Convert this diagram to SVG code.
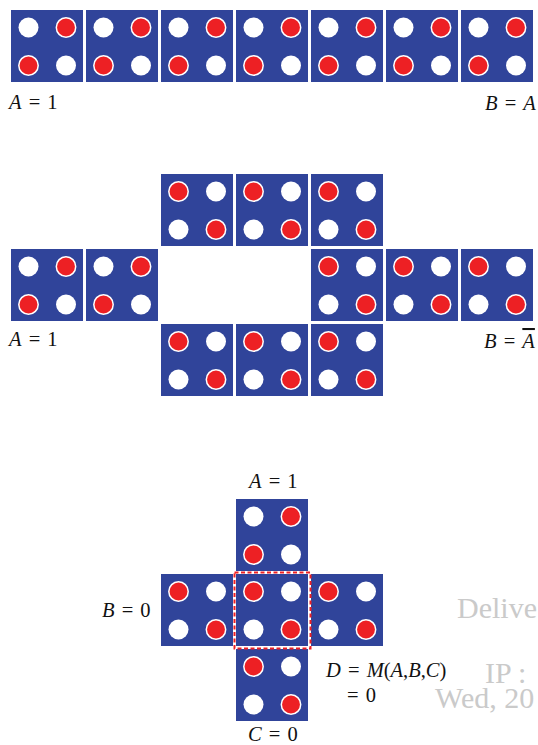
<svg xmlns="http://www.w3.org/2000/svg" xmlns:xlink="http://www.w3.org/1999/xlink" width="538" height="745" viewBox="0 0 538 745">
<style>
.bg{fill:#30449a}
.w{fill:#ffffff}
.r{fill:#ed2024;stroke:#ffffff;stroke-width:1.5}
.lbl{font-family:"Liberation Serif","Times New Roman",serif;font-size:20.5px;fill:#111111;word-spacing:2px}
.it{font-style:italic}
.wm{font-family:"Liberation Serif","Times New Roman",serif;font-size:30px;fill:#cacaca}
.sel{fill:none;stroke:#ed2024;stroke-width:2;stroke-dasharray:4 2.5}
</style>
<defs>
<g id="tA">
<rect class="bg" width="72" height="72"/>
<circle class="w" cx="17.5" cy="17.5" r="10"/>
<circle class="r" cx="55" cy="17.5" r="9.7"/>
<circle class="r" cx="17.5" cy="55.5" r="9.7"/>
<circle class="w" cx="55" cy="55.5" r="10"/>
</g>
<g id="tB">
<rect class="bg" width="72" height="72"/>
<circle class="r" cx="17.5" cy="17.5" r="9.7"/>
<circle class="w" cx="55" cy="17.5" r="10"/>
<circle class="w" cx="17.5" cy="55.5" r="10"/>
<circle class="r" cx="55" cy="55.5" r="9.7"/>
</g>
</defs>
<rect width="538" height="745" fill="#ffffff"/>

<!-- Top row -->
<g id="top-1"><use xlink:href="#tA" x="11" y="10"/></g>
<g id="top-2"><use xlink:href="#tA" x="86" y="10"/></g>
<g id="top-3"><use xlink:href="#tA" x="161" y="10"/></g>
<g id="top-4"><use xlink:href="#tA" x="236" y="10"/></g>
<g id="top-5"><use xlink:href="#tA" x="311" y="10"/></g>
<g id="top-6"><use xlink:href="#tA" x="386" y="10"/></g>
<g id="top-7"><use xlink:href="#tA" x="461" y="10"/></g>
<text class="lbl" x="9" y="109"><tspan class="it">A</tspan> = 1</text>
<text class="lbl" x="485" y="110"><tspan class="it">B</tspan> = <tspan class="it">A</tspan></text>

<!-- Middle section -->
<g id="mid-u1"><use xlink:href="#tB" x="161" y="174"/></g>
<g id="mid-u2"><use xlink:href="#tB" x="236" y="174"/></g>
<g id="mid-u3"><use xlink:href="#tB" x="311" y="174"/></g>
<g id="mid-l1"><use xlink:href="#tA" x="11" y="249"/></g>
<g id="mid-l2"><use xlink:href="#tA" x="86" y="249"/></g>
<g id="mid-r1"><use xlink:href="#tB" x="311" y="249"/></g>
<g id="mid-r2"><use xlink:href="#tB" x="386" y="249"/></g>
<g id="mid-r3"><use xlink:href="#tB" x="461" y="249"/></g>
<g id="mid-d1"><use xlink:href="#tB" x="161" y="324"/></g>
<g id="mid-d2"><use xlink:href="#tB" x="236" y="324"/></g>
<g id="mid-d3"><use xlink:href="#tB" x="311" y="324"/></g>
<text class="lbl" x="9" y="346"><tspan class="it">A</tspan> = 1</text>
<text class="lbl" x="484" y="348"><tspan class="it">B</tspan> = <tspan class="it" text-decoration="overline">A</tspan></text>

<!-- Bottom section -->
<g id="bot-top"><use xlink:href="#tA" x="236" y="499"/></g>
<g id="bot-left"><use xlink:href="#tB" x="161" y="574"/></g>
<g id="bot-center"><use xlink:href="#tB" x="236" y="574"/></g>
<g id="bot-right"><use xlink:href="#tB" x="311" y="574"/></g>
<g id="bot-bottom"><use xlink:href="#tB" x="236" y="649"/></g>
<g id="connectors">
<rect class="sel" x="234.5" y="572.5" width="76" height="76"/>
</g>
<text class="lbl" x="249" y="488"><tspan class="it">A</tspan> = 1</text>
<text class="lbl" x="102" y="617"><tspan class="it">B</tspan> = 0</text>
<text class="lbl" x="248" y="741"><tspan class="it">C</tspan> = 0</text>
<text class="lbl" x="326" y="677"><tspan class="it">D</tspan> = <tspan class="it">M</tspan>(<tspan class="it">A</tspan>,<tspan class="it">B</tspan>,<tspan class="it">C</tspan>)</text>
<text class="lbl" x="347" y="702">= 0</text>

<!-- Watermark -->
<text class="wm" x="457" y="618">Delive</text>
<text class="wm" x="485" y="683">IP :</text>
<text class="wm" x="435" y="708">Wed, 20</text>
</svg>
